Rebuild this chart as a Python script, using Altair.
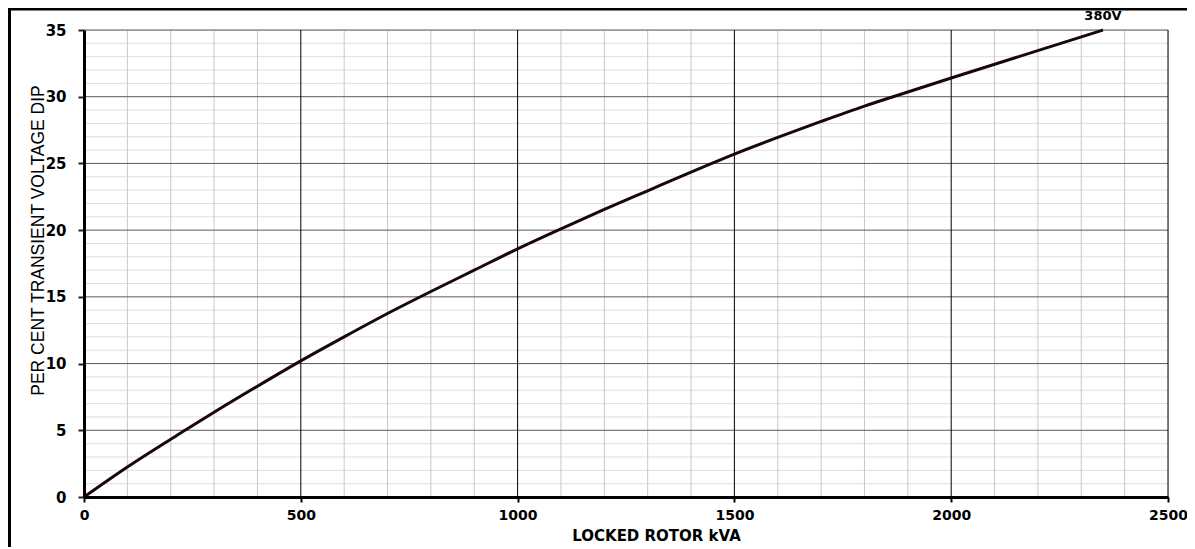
import altair as alt
import pandas as pd

# Curve (380V)
kva = [0, 100, 233, 300, 400, 500, 600, 700, 800, 900, 1000, 1100, 1200, 1300, 1400, 1500,
       1600, 1700, 1800, 1866, 2000, 2350]
dip = [0, 2.25, 5.0, 6.35, 8.3, 10.2, 12.0, 13.75, 15.4, 17.0, 18.6, 20.1, 21.55, 22.95, 24.35, 25.7,
       26.95, 28.15, 29.3, 30.0, 31.4, 35.0]
series_label = "380V"

x_major = [500, 1000, 1500, 2000, 2500]
x_ticks = [0, 500, 1000, 1500, 2000, 2500]
x_minor = [v for v in range(100, 2500, 100) if v % 500 != 0]
y_major = [5, 10, 15, 20, 25, 30, 35]
y_ticks = [0, 5, 10, 15, 20, 25, 30, 35]
y_minor = [v for v in range(1, 35) if v % 5 != 0]

curve = pd.DataFrame({"kva": kva, "dip": dip})
label_df = pd.DataFrame({"kva": [kva[-1]], "dip": [dip[-1]], "t": [series_label]})

xs = alt.Scale(domain=[0, 2500], nice=False, zero=True)
ys = alt.Scale(domain=[0, 35], nice=False, zero=True)

x_axis = alt.Axis(
    values=x_ticks, format="d", title="LOCKED ROTOR kVA", grid=False,
    domainColor="black", domainWidth=3,
    tickColor="black", tickWidth=2, tickSize=5,
    labelFont="DejaVu Sans", labelFontWeight="bold", labelFontSize=14, labelColor="black",
    labelPadding=6, labelFlush=False, labelOverlap=False,
    titleFont="DejaVu Sans", titleFontWeight="bold", titleFontSize=15, titleColor="black",
    titleX=572, titleY=38, titleAlign="center", titleBaseline="middle",
    zindex=1,
)
y_axis = alt.Axis(
    values=y_ticks, format="d", title="PER CENT TRANSIENT VOLTAGE DIP", grid=False,
    domainColor="black", domainWidth=3,
    tickColor="#222222", tickWidth=2, tickSize=6,
    labelFont="DejaVu Sans", labelFontWeight="bold", labelFontSize=15, labelColor="black",
    labelPadding=12, labelFlush=False, labelOverlap=False,
    titleFont="Liberation Sans", titleFontWeight="normal", titleFontSize=17.5, titleColor="black",
    titleX=-46, titleY=210, titleAlign="center", titleBaseline="middle", titleAngle=270,
    zindex=1,
)

def vrules(vals, color, width):
    return alt.Chart(pd.DataFrame({"v": vals})).mark_rule(color=color, strokeWidth=width).encode(
        x=alt.X("v:Q", scale=xs, axis=x_axis))

def hrules(vals, color, width):
    return alt.Chart(pd.DataFrame({"v": vals})).mark_rule(color=color, strokeWidth=width).encode(
        y=alt.Y("v:Q", scale=ys, axis=y_axis))

minor_h = hrules(y_minor, "#dedede", 1)
minor_v = vrules(x_minor, "#c8c8c8", 1)
major_h = hrules(y_major, "#5a5a5a", 1)
major_v = vrules(x_major, "#000000", 1)

line = alt.Chart(curve).mark_line(color="#1a0512", strokeWidth=3, interpolate="monotone").encode(
    x=alt.X("kva:Q", scale=xs, axis=x_axis),
    y=alt.Y("dip:Q", scale=ys, axis=y_axis),
)

label = alt.Chart(label_df).mark_text(
    font="DejaVu Sans", fontWeight="bold", fontSize=13, color="black", dy=-14, align="center", baseline="middle"
).encode(x=alt.X("kva:Q", scale=xs, axis=x_axis), y=alt.Y("dip:Q", scale=ys, axis=y_axis), text="t:N")

# outer frame (left and top)
frame_left = alt.Chart(pd.DataFrame({"a": [0]})).mark_rule(color="black", strokeWidth=3).encode(
    x=alt.value(-74.5), y=alt.value(-22), y2=alt.value(600))
frame_top = alt.Chart(pd.DataFrame({"a": [0]})).mark_rule(color="black", strokeWidth=3).encode(
    x=alt.value(-76), x2=alt.value(1200), y=alt.value(-21))

chart = alt.layer(minor_h, minor_v, major_h, major_v, line, label, frame_left, frame_top).properties(
    width=1084, height=467,
    autosize=alt.AutoSizeParams(type="none"),
    padding={"left": 76, "top": 22, "right": 19, "bottom": 50},
).configure_view(stroke="transparent").configure(background="white")

chart.save("out.html", embed_options={"renderer": "svg", "actions": False})
